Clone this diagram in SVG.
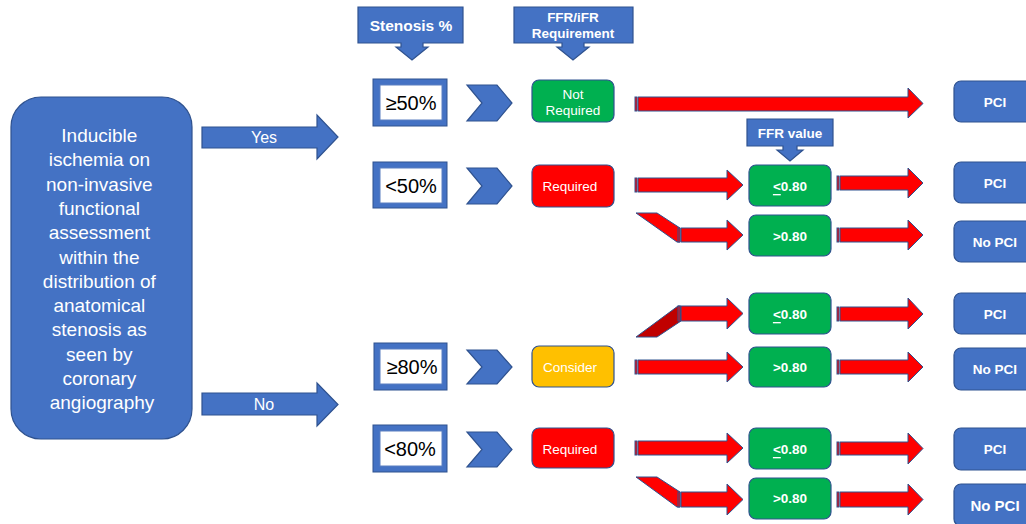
<svg xmlns="http://www.w3.org/2000/svg" width="1026" height="524" viewBox="0 0 1026 524">
<style>
.blue{fill:#4472C4;stroke:#2F528F;stroke-width:1.2}
.red{fill:#FF0000;stroke:#2F528F;stroke-width:1}
.dred{fill:#C00000;stroke:#2F528F;stroke-width:1}
.stripe{fill:#FF0000;stroke:#2F528F;stroke-width:1}
.green{fill:#00B050;stroke:#2F528F;stroke-width:1.2}
.rbox{fill:#FF0000;stroke:#2F528F;stroke-width:1.2}
.ybox{fill:#FFC000;stroke:#2F528F;stroke-width:1.2}
.pct{fill:#4472C4;stroke:#2F528F;stroke-width:1}
.inner{fill:#FFFFFF;stroke:#5B7FC0;stroke-width:1}
text{font-family:"Liberation Sans",Arial,sans-serif;text-anchor:middle;dominant-baseline:central}
.w{fill:#FFFFFF}
.b{font-weight:bold}
.k{fill:#000000;font-size:20px}
.s13{font-size:13.5px}
</style>

<g id="main">
<rect class="blue" x="11" y="97" width="181" height="342" rx="30"/>
<text class="w" font-size="19px">
<tspan x="102" y="135">Inducible</tspan>
<tspan x="102" y="159.3">ischemia on</tspan>
<tspan x="102" y="183.6">non-invasive</tspan>
<tspan x="102" y="207.9">functional</tspan>
<tspan x="102" y="232.2">assessment</tspan>
<tspan x="102" y="256.5">within the</tspan>
<tspan x="102" y="280.8">distribution of</tspan>
<tspan x="102" y="305.1">anatomical</tspan>
<tspan x="102" y="329.4">stenosis as</tspan>
<tspan x="102" y="353.7">seen by</tspan>
<tspan x="102" y="378">coronary</tspan>
<tspan x="102" y="402.3">angiography</tspan>
</text>
</g>

<g id="headers">
<g id="h-stenosis">
<path class="blue" d="M358,7 H463 V43 H423 V47 H428 L412,60 L396,47 H401 V43 H358 Z"/>
<text class="w b" x="411" y="25" font-size="15.5px">Stenosis %</text>
</g>
<g id="h-ffr">
<path class="blue" d="M514,7 H633 V43 H584 V47 H589 L573,60 L557,47 H562 V43 H514 Z"/>
<text class="w b s13"><tspan x="573" y="17">FFR/iFR</tspan><tspan x="573" y="33">Requirement</tspan></text>
</g>
<g id="h-ffrvalue">
<path class="blue" d="M747,119 H833 V146 H797 V150 H803 L790,161 L777,150 H783 V146 H747 Z"/>
<text class="w b s13" x="790" y="133">FFR value</text>
</g>
</g>

<g id="connectors">
<path class="blue" d="M202,127 H317 V115 L338,137 L317,159 V148 H202 Z"/>
<text class="w" x="264" y="137" font-size="16px">Yes</text>
<path class="blue" d="M202,393 H317 V383 L338,404.5 L317,426 V415 H202 Z"/>
<text class="w" x="264" y="404" font-size="16px">No</text>
<path class="blue" d="M467,85 H497 L512,103 L497,121 H467 L482,103 Z"/>
<path class="blue" d="M467,168 H497 L512,186 L497,204 H467 L482,186 Z"/>
<path class="blue" d="M467,350 H497 L512,367 L497,384 H467 L482,367 Z"/>
<path class="blue" d="M467,432 H497 L512,449.5 L497,467 H467 L482,449.5 Z"/>

<rect class="stripe" x="635" y="97" width="2" height="14"/>
<path class="red" d="M638,97 H908 V88 L923,103.5 L908,118 V111 H638 Z"/>

<rect class="stripe" x="635" y="178" width="2" height="14"/>
<path class="red" d="M638,178 H727 V170 L743,185 L727,200 V192 H638 Z"/>
<rect class="stripe" x="837" y="176" width="2" height="14"/>
<path class="red" d="M840,176 H908 V168 L923,183 L908,198 V190 H840 Z"/>

<path class="red" d="M636,213 H657 L680,228 V242 H677 Z"/>
<rect class="stripe" x="678" y="228" width="2" height="14"/>
<path class="red" d="M681,228 H727 V220 L743,235 L727,250 V242 H681 Z"/>
<rect class="stripe" x="837" y="228" width="2" height="14"/>
<path class="red" d="M840,228 H908 V220 L923,235 L908,250 V242 H840 Z"/>

<path class="dred" d="M636,337 L678,306 H681 V321 L657,337 Z"/>
<rect class="stripe" x="678" y="306" width="2" height="15"/>
<path class="red" d="M681,306 H727 V298 L743,313.5 L727,329 V321 H681 Z"/>
<rect class="stripe" x="837" y="307" width="2" height="14"/>
<path class="red" d="M840,307 H908 V298 L923,314 L908,329 V321 H840 Z"/>

<rect class="stripe" x="635" y="360" width="2" height="14"/>
<path class="red" d="M638,360 H727 V352 L743,367 L727,382 V374 H638 Z"/>
<rect class="stripe" x="837" y="360" width="2" height="14"/>
<path class="red" d="M840,360 H908 V352 L923,367 L908,382 V374 H840 Z"/>

<rect class="stripe" x="635" y="441" width="2" height="14"/>
<path class="red" d="M638,441 H727 V433 L743,448 L727,463 V455 H638 Z"/>
<rect class="stripe" x="837" y="442" width="2" height="13"/>
<path class="red" d="M840,442 H908 V433 L923,448.5 L908,464 V455 H840 Z"/>

<path class="red" d="M636,477 H657 L680,492 V507 H677 Z"/>
<rect class="stripe" x="678" y="492" width="2" height="15"/>
<path class="red" d="M681,492 H727 V484 L743,499.5 L727,515 V507 H681 Z"/>
<rect class="stripe" x="837" y="492" width="2" height="15"/>
<path class="red" d="M840,492 H908 V484 L923,499.5 L908,515 V507 H840 Z"/>
</g>

<g id="stenosis-boxes">
<g id="s50ge"><rect class="pct" x="373" y="79" width="74" height="47"/><rect class="inner" x="380" y="85" width="62" height="35"/><text class="k" x="411" y="103">≥50%</text></g>
<g id="s50lt"><rect class="pct" x="373" y="162" width="74" height="46"/><rect class="inner" x="380" y="168" width="62" height="35"/><text class="k" x="411" y="186">&lt;50%</text></g>
<g id="s80ge"><rect class="pct" x="374" y="343" width="73" height="47"/><rect class="inner" x="380" y="349" width="62" height="35"/><text class="k" x="412" y="367">≥80%</text></g>
<g id="s80lt"><rect class="pct" x="373" y="425" width="74" height="47"/><rect class="inner" x="380" y="431" width="62" height="35"/><text class="k" x="410" y="449">&lt;80%</text></g>
</g>

<g id="requirement-boxes">
<g id="r1"><rect class="green" x="532" y="80" width="82" height="42" rx="7"/><text class="w s13"><tspan x="573" y="94">Not</tspan><tspan x="573" y="110">Required</tspan></text></g>
<g id="r2"><rect class="rbox" x="532" y="165" width="82" height="42" rx="7"/><text class="w s13" x="570" y="186">Required</text></g>
<g id="r3"><rect class="ybox" x="532" y="346" width="82" height="41" rx="7"/><text class="w s13" x="570" y="367">Consider</text></g>
<g id="r4"><rect class="rbox" x="532" y="428" width="82" height="40" rx="7"/><text class="w s13" x="570" y="449">Required</text></g>
</g>

<g id="ffr-boxes">
<g id="f1"><rect class="green" x="749" y="165" width="82" height="41" rx="7"/><text class="w b s13" x="790" y="186"><tspan text-decoration="underline">&lt;</tspan>0.80</text></g>
<g id="f2"><rect class="green" x="749" y="215" width="82" height="41" rx="7"/><text class="w b s13" x="790" y="236">&gt;0.80</text></g>
<g id="f3"><rect class="green" x="749" y="293" width="82" height="41" rx="7"/><text class="w b s13" x="790" y="314"><tspan text-decoration="underline">&lt;</tspan>0.80</text></g>
<g id="f4"><rect class="green" x="749" y="347" width="82" height="40" rx="7"/><text class="w b s13" x="790" y="367">&gt;0.80</text></g>
<g id="f5"><rect class="green" x="749" y="428" width="82" height="41" rx="7"/><text class="w b s13" x="790" y="449"><tspan text-decoration="underline">&lt;</tspan>0.80</text></g>
<g id="f6"><rect class="green" x="749" y="478" width="82" height="41" rx="7"/><text class="w b s13" x="790" y="498">&gt;0.80</text></g>
</g>

<g id="outcomes">
<g id="o1"><rect class="blue" x="954" y="81" width="90" height="41" rx="7"/><text class="w b s13" x="995" y="102">PCI</text></g>
<g id="o2"><rect class="blue" x="954" y="162" width="90" height="41" rx="7"/><text class="w b s13" x="995" y="183">PCI</text></g>
<g id="o3"><rect class="blue" x="954" y="221" width="90" height="41" rx="7"/><text class="w b s13" x="995" y="242">No PCI</text></g>
<g id="o4"><rect class="blue" x="954" y="293" width="90" height="41" rx="7"/><text class="w b s13" x="995" y="314">PCI</text></g>
<g id="o5"><rect class="blue" x="954" y="348" width="90" height="42" rx="7"/><text class="w b s13" x="995" y="369">No PCI</text></g>
<g id="o6"><rect class="blue" x="954" y="428" width="90" height="42" rx="7"/><text class="w b s13" x="995" y="449">PCI</text></g>
<g id="o7"><rect class="blue" x="954" y="484" width="90" height="42" rx="7"/><text class="w b" x="995" y="505" font-size="15px">No PCI</text></g>
</g>
</svg>
